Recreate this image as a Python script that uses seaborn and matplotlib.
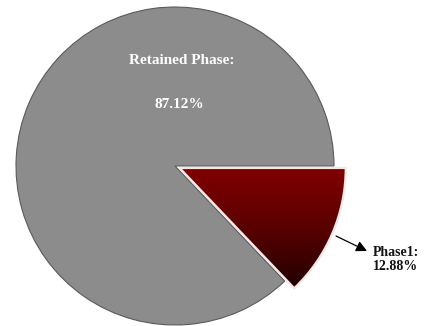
import numpy as np
import matplotlib
matplotlib.use("Agg")
import matplotlib.pyplot as plt
import seaborn as sns
from matplotlib.colors import LinearSegmentedColormap

# Phase composition (percent)
phases = ["Phase1", "Retained Phase"]
shares = [12.88, 87.12]

sns.set_theme(style="white")
plt.rcParams["font.family"] = ["Liberation Serif", "DejaVu Serif"]

fig = plt.figure(figsize=(4.25, 3.26), dpi=100)
ax = fig.add_axes([0, 0, 1, 1])

cx, cy, r = 175, 160, 159
pull = 5  # offset of the pulled-out slice, in data units
wedges, _ = ax.pie(shares, explode=[pull, 0], startangle=0, counterclock=False,
                   colors=["#6e0000", "#8c8c8c"], center=(cx, cy), radius=r,
                   frame=True, wedgeprops=dict(linewidth=1.0))
ax.set_xlim(0, 425)
ax.set_ylim(0, 326)
ax.set_aspect("equal")
ax.axis("off")

w_phase, w_ret = wedges
w_ret.set_edgecolor("#5a5a5a")
w_ret.set_linewidth(0.8)
w_phase.set_radius(r * 1.045)

# vertical red-to-black gradient inside the Phase1 wedge
fig.canvas.draw()
bb = w_phase.get_path().get_extents(w_phase.get_transform())
inv = ax.transData.inverted()
(x0, y0), (x1, y1) = inv.transform([[bb.x0, bb.y0], [bb.x1, bb.y1]])
cmap = LinearSegmentedColormap.from_list("redgrad", ["#220000", "#5a0000", "#820000"])
grad = np.linspace(0, 1, 256).reshape(-1, 1)
img = ax.imshow(grad, cmap=cmap, origin="lower", extent=(x0, x1, y0, y1),
                aspect="auto", zorder=3.5)
img.set_clip_path(w_phase)
w_phase.set_facecolor("none")
w_phase.set_edgecolor("#f4e6e6")
w_phase.set_linewidth(1.6)
w_phase.set_zorder(4)
ax.set_xlim(0, 425)
ax.set_ylim(0, 326)

ax.text(182, 326 - 60, f"{phases[1]}:", color="white", fontsize=11,
        fontweight="bold", ha="center", va="center")
ax.text(179, 326 - 105, f"{shares[1]:.2f}%", color="white", fontsize=11,
        fontweight="bold", ha="center", va="center")

# arrow from the wedge toward its label
ax.annotate("", xy=(367, 326 - 251), xytext=(336, 326 - 236),
            arrowprops=dict(arrowstyle="-|>", color="black", lw=0.9,
                            mutation_scale=16, shrinkA=0, shrinkB=0),
            zorder=5)
ax.text(373, 326 - 260, f"{phases[0]}:\n{shares[0]:.2f}%", fontsize=10,
        fontweight="bold", color="#111111", ha="left", va="center",
        linespacing=1.1, zorder=5)

fig.savefig("out.png", dpi=100)
